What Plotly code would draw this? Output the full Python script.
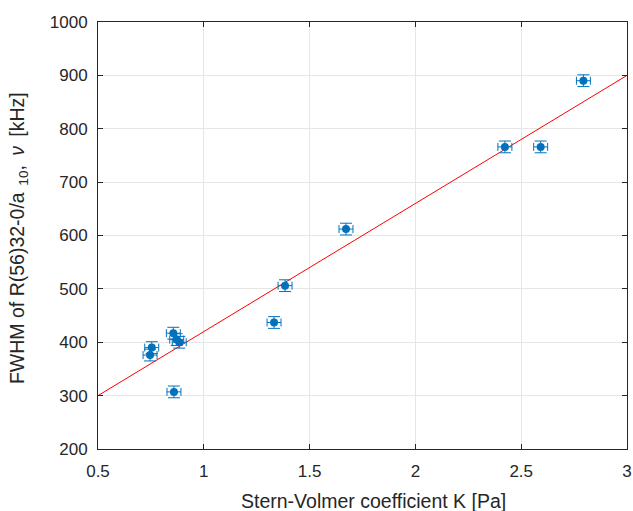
import plotly.graph_objects as go

# Data
k_values = [0.859, 0.754, 0.746, 0.856, 0.872, 0.884, 1.384, 1.332, 1.672, 2.423, 2.592, 2.794]
fwhm_values = [307, 390, 376, 417, 405, 400, 506, 437, 612, 766, 766, 890]
k_err = [0.033] * len(k_values)
fwhm_err = [11] * len(fwhm_values)
fit_x = [0.5, 3.0]
fit_y = [300, 900]
x_ticks = [0.5, 1, 1.5, 2, 2.5, 3]
x_ticktext = ["0.5", "1", "1.5", "2", "2.5", "3"]
x_title = "Stern-Volmer coefficient K [Pa]"
y_title = "FWHM of R(56)32-0/a\u2009<sub>\u200910</sub>,\u2009 <i>ν</i>\u2009 [kHz]"

blue = "#0072BD"
dark = "#262626"
font = "Liberation Sans, Arial, sans-serif"

fig = go.Figure()
fig.add_trace(go.Scatter(
    x=fit_x, y=fit_y, mode="lines",
    line=dict(color="#FF0000", width=1), showlegend=False,
))
fig.add_trace(go.Scatter(
    x=k_values, y=fwhm_values, mode="markers",
    marker=dict(color=blue, size=8),
    error_x=dict(type="data", array=k_err, color=blue, thickness=1, width=4),
    error_y=dict(type="data", array=fwhm_err, color=blue, thickness=1, width=6),
    showlegend=False,
))

axis_common = dict(
    showgrid=True, gridcolor="#E6E6E6", gridwidth=1,
    showline=True, linecolor=dark, linewidth=1, mirror="ticks",
    ticks="inside", ticklen=5, tickcolor=dark,
    tickfont=dict(family=font, size=17, color=dark),
    zeroline=False, automargin=False,
)

fig.update_layout(
    width=633, height=511,
    margin=dict(l=98, r=6, t=22, b=62),
    paper_bgcolor="white", plot_bgcolor="white",
    xaxis=dict(range=[0.5, 3], tickvals=x_ticks, ticktext=x_ticktext,
               ticklabelstandoff=7, **axis_common),
    yaxis=dict(range=[200, 1000], dtick=100, ticklabelstandoff=6, **axis_common),
    annotations=[
        dict(text=x_title, xref="paper", yref="paper", x=0.5208, y=-0.1218,
             xanchor="center", yanchor="middle", showarrow=False,
             font=dict(family=font, size=19.5, color=dark)),
        dict(text=y_title, xref="paper", yref="paper", x=-0.1512, y=0.494,
             xanchor="center", yanchor="middle", showarrow=False, textangle=-90,
             font=dict(family=font, size=19.5, color=dark)),
    ],
)

fig.write_html(
    "out.html",
    config={"displayModeBar": False},
    post_script="document.body.style.margin='0px';document.body.style.overflow='hidden';",
)
